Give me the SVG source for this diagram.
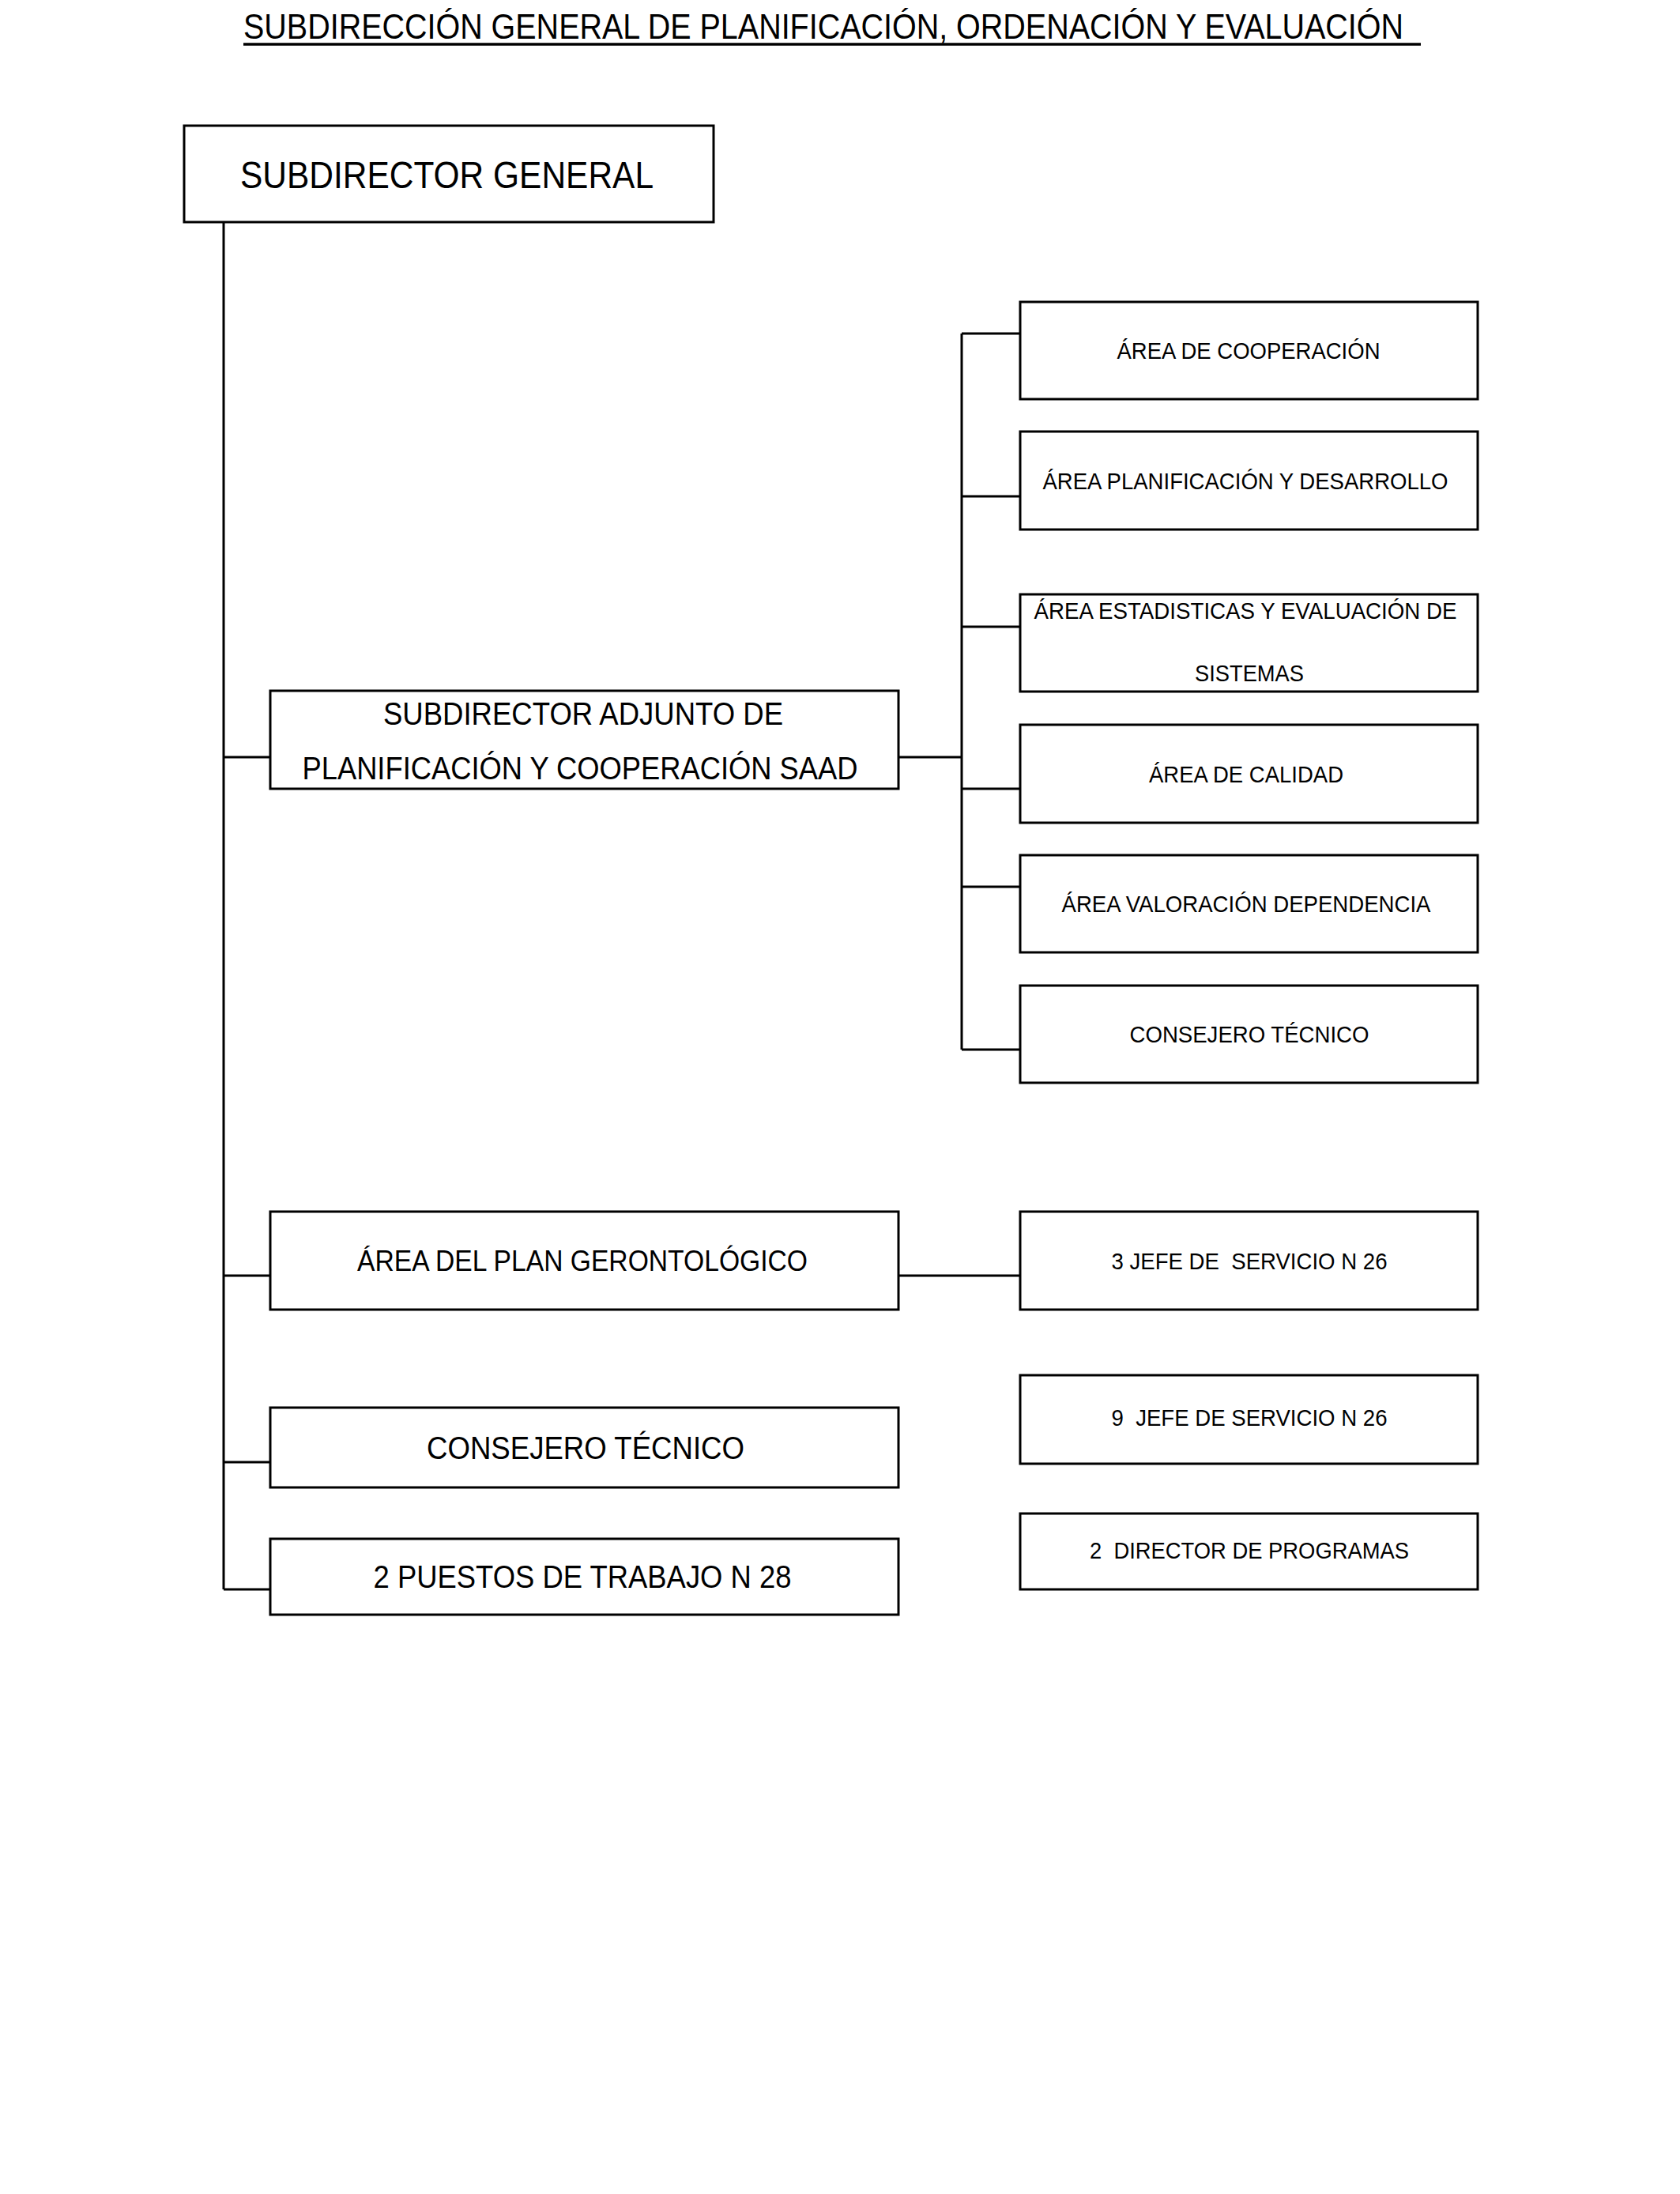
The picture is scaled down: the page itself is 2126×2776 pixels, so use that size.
<svg xmlns="http://www.w3.org/2000/svg" width="2126" height="2776" viewBox="0 0 2126 2776">
<style>
text{font-family:"Liberation Sans",Arial,sans-serif;fill:#000;}
.box{fill:#fff;stroke:#000;stroke-width:3;}
.ln{fill:none;stroke:#000;stroke-width:3;}
.s{font-size:30px;text-anchor:middle;}
.m{font-size:40px;text-anchor:middle;}
</style>
<rect x="0" y="0" width="2126" height="2776" fill="#fff"/>
<g id="title">
<text x="308" y="49" font-size="44" textLength="1468" lengthAdjust="spacingAndGlyphs">SUBDIRECCIÓN GENERAL DE PLANIFICACIÓN, ORDENACIÓN Y EVALUACIÓN</text>
<line x1="308" y1="56" x2="1798" y2="56" stroke="#000" stroke-width="3.5"/>
</g>
<g id="connectors">
<polyline class="ln" points="283,281 283,2011"/>
<line class="ln" x1="283" y1="958" x2="342" y2="958"/>
<line class="ln" x1="283" y1="1614" x2="342" y2="1614"/>
<line class="ln" x1="283" y1="1850" x2="342" y2="1850"/>
<line class="ln" x1="283" y1="2011" x2="342" y2="2011"/>
<line class="ln" x1="1137" y1="958" x2="1217" y2="958"/>
<line class="ln" x1="1217" y1="422" x2="1217" y2="1328"/>
<line class="ln" x1="1217" y1="422" x2="1291" y2="422"/>
<line class="ln" x1="1217" y1="628" x2="1291" y2="628"/>
<line class="ln" x1="1217" y1="793" x2="1291" y2="793"/>
<line class="ln" x1="1217" y1="998" x2="1291" y2="998"/>
<line class="ln" x1="1217" y1="1122" x2="1291" y2="1122"/>
<line class="ln" x1="1217" y1="1328" x2="1291" y2="1328"/>
<line class="ln" x1="1137" y1="1614" x2="1291" y2="1614"/>
</g>
<g id="subdirector-general">
<rect class="box" x="233" y="159" width="670" height="122"/>
<text x="304" y="238" font-size="48" textLength="523" lengthAdjust="spacingAndGlyphs">SUBDIRECTOR GENERAL</text>
</g>
<g id="subdirector-adjunto">
<rect class="box" x="342" y="874" width="795" height="124"/>
<text class="m" x="738" y="917" textLength="506" lengthAdjust="spacingAndGlyphs">SUBDIRECTOR ADJUNTO DE</text>
<text class="m" x="734" y="986" textLength="703" lengthAdjust="spacingAndGlyphs">PLANIFICACIÓN Y COOPERACIÓN SAAD</text>
</g>
<g id="area-plan-gerontologico">
<rect class="box" x="342" y="1533" width="795" height="124"/>
<text x="737" y="1608" font-size="36" text-anchor="middle" textLength="570" lengthAdjust="spacingAndGlyphs">ÁREA DEL PLAN GERONTOLÓGICO</text>
</g>
<g id="consejero-tecnico-left">
<rect class="box" x="342" y="1781" width="795" height="101"/>
<text class="m" x="741" y="1846" textLength="402" lengthAdjust="spacingAndGlyphs">CONSEJERO TÉCNICO</text>
</g>
<g id="puestos-trabajo">
<rect class="box" x="342" y="1947" width="795" height="96"/>
<text class="m" x="737" y="2009" textLength="529" lengthAdjust="spacingAndGlyphs">2 PUESTOS DE TRABAJO N 28</text>
</g>
<g id="area-cooperacion">
<rect class="box" x="1291" y="382" width="579" height="123"/>
<text class="s" x="1580" y="454" textLength="333" lengthAdjust="spacingAndGlyphs">ÁREA DE COOPERACIÓN</text>
</g>
<g id="area-planificacion">
<rect class="box" x="1291" y="546" width="579" height="124"/>
<text class="s" x="1576" y="619" textLength="513" lengthAdjust="spacingAndGlyphs">ÁREA PLANIFICACIÓN Y DESARROLLO</text>
</g>
<g id="area-estadisticas">
<rect class="box" x="1291" y="752" width="579" height="123"/>
<text class="s" x="1576" y="783" textLength="535" lengthAdjust="spacingAndGlyphs">ÁREA ESTADISTICAS Y EVALUACIÓN DE</text>
<text class="s" x="1581" y="862" textLength="138" lengthAdjust="spacingAndGlyphs">SISTEMAS</text>
</g>
<g id="area-calidad">
<rect class="box" x="1291" y="917" width="579" height="124"/>
<text class="s" x="1577" y="990" textLength="246" lengthAdjust="spacingAndGlyphs">ÁREA DE CALIDAD</text>
</g>
<g id="area-valoracion">
<rect class="box" x="1291" y="1082" width="579" height="123"/>
<text class="s" x="1577" y="1154" textLength="467" lengthAdjust="spacingAndGlyphs">ÁREA VALORACIÓN DEPENDENCIA</text>
</g>
<g id="consejero-tecnico-right">
<rect class="box" x="1291" y="1247" width="579" height="123"/>
<text class="s" x="1581" y="1319" textLength="303" lengthAdjust="spacingAndGlyphs">CONSEJERO TÉCNICO</text>
</g>
<g id="jefe-servicio-3">
<rect class="box" x="1291" y="1533" width="579" height="124"/>
<text class="s" x="1581" y="1606" xml:space="preserve" textLength="349" lengthAdjust="spacingAndGlyphs">3 JEFE DE  SERVICIO N 26</text>
</g>
<g id="jefe-servicio-9">
<rect class="box" x="1291" y="1740" width="579" height="112"/>
<text class="s" x="1581" y="1804" xml:space="preserve" textLength="349" lengthAdjust="spacingAndGlyphs">9  JEFE DE SERVICIO N 26</text>
</g>
<g id="director-programas">
<rect class="box" x="1291" y="1915" width="579" height="96"/>
<text class="s" x="1581" y="1972" xml:space="preserve" textLength="404" lengthAdjust="spacingAndGlyphs">2  DIRECTOR DE PROGRAMAS</text>
</g>
</svg>
